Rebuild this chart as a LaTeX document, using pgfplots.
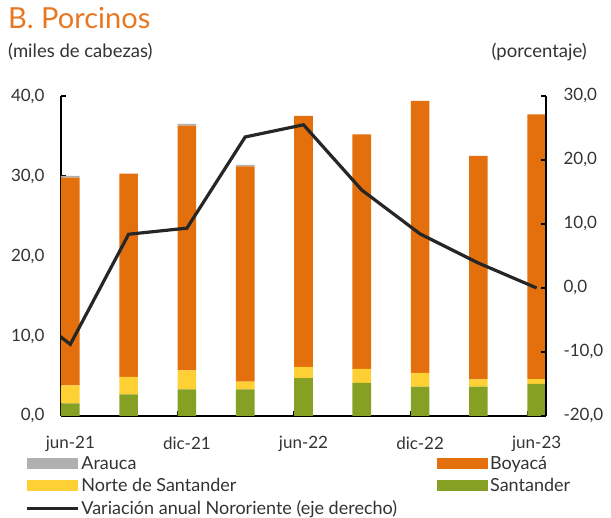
\documentclass[border=0pt]{standalone}
\usepackage{pgfplots}
\pgfplotsset{compat=1.18}
\usepackage{fontspec}
\setmainfont{Lato}
\definecolor{corange}{HTML}{E3700C}
\definecolor{cyellow}{HTML}{FFD033}
\definecolor{cgreen}{HTML}{86A024}
\definecolor{cgray}{HTML}{B0B0B0}
\definecolor{ctext}{HTML}{333333}
\definecolor{ctitle}{HTML}{E87722}
\begin{document}
\begin{tikzpicture}
\path[use as bounding box] (0pt,0pt) rectangle (611pt,518pt);
\node[anchor=north west,inner sep=0,text=ctitle,font=\fontsize{29}{31}\selectfont] at (8pt,511pt) {B. Porcinos};
\node[anchor=north west,inner sep=0,text=ctext,font=\fontsize{18.5}{20}\selectfont] at (8pt,475pt) {(miles de cabezas)};
\node[anchor=north east,inner sep=0,text=ctext,font=\fontsize{18.5}{20}\selectfont] at (587pt,475pt) {(porcentaje)};
\begin{axis}[
  at={(61pt,102pt)}, anchor=south west,
  width=485pt, height=320pt, scale only axis,
  xmin=-0.16, xmax=8.16,
  ymin=0, ymax=40,
  ytick={0,10,20,30,40},
  axis x line*=bottom, axis y line*=left,
  axis line style={line width=1.6pt,-},
  tick style={line width=1.4pt,black},
  major tick length=5pt,
  tick align=inside,
  xtick={-0.16,1.84,3.84,5.84,7.84},
  xticklabels={},
  extra x ticks={0,2,4,6,8},
  extra x tick labels={jun-21,dic-21,jun-22,dic-22,jun-23},
  extra x tick style={major tick length=0pt},
  ticklabel style={text=ctext,font=\fontsize{17}{19}\selectfont},
  x tick label style={yshift=-17pt},
  /pgf/number format/.cd, fixed, fixed zerofill, precision=1, use comma, assume math mode=true,
  /pgfplots/.cd,
  yticklabel style={xshift=-13pt},
  ybar stacked, bar width=0.32,
  legend columns=2,
  legend style={at={(-0.0742,-0.119)},anchor=north west,draw=none,fill=none,inner sep=0pt,
    font=\fontsize{18}{20}\selectfont,text=ctext,
    /tikz/every even column/.append style={column sep=38pt},
    row sep=3.5pt},
  legend cell align=left,
]
\addplot[fill=cgreen,draw=none,forget plot] coordinates {(0,1.58) (1,2.7) (2,3.33) (3,3.33) (4,4.74) (5,4.15) (6,3.66) (7,3.66) (8,4.03)};
\addplot[fill=cyellow,draw=none,forget plot] coordinates {(0,2.25) (1,2.2) (2,2.37) (3,0.97) (4,1.41) (5,1.75) (6,1.74) (7,0.91) (8,0.57)};
\addplot[fill=corange,draw=none,forget plot] coordinates {(0,25.97) (1,25.4) (2,30.6) (3,26.9) (4,31.35) (5,29.3) (6,34.0) (7,27.93) (8,33.1)};
\addplot[fill=cgray,draw=none,forget plot] coordinates {(0,0.2) (1,0) (2,0.2) (3,0.2) (4,0) (5,0) (6,0) (7,0) (8,0)};
\addlegendimage{area legend,fill=cgray,draw=none,legend image code/.code={\fill[cgray] (0pt,-5.5pt) rectangle (51pt,5.5pt);}}
\addlegendentry{Arauca}
\addlegendimage{area legend,fill=corange,draw=none,legend image code/.code={\fill[corange] (0pt,-5.5pt) rectangle (51pt,5.5pt);}}
\addlegendentry{Boyacá}
\addlegendimage{area legend,fill=cyellow,draw=none,legend image code/.code={\fill[cyellow] (0pt,-5.5pt) rectangle (51pt,5.5pt);}}
\addlegendentry{Norte de Santander}
\addlegendimage{area legend,fill=cgreen,draw=none,legend image code/.code={\fill[cgreen] (0pt,-5.5pt) rectangle (51pt,5.5pt);}}
\addlegendentry{Santander}
\addlegendimage{legend image code/.code={\draw[line width=3.2pt,color=black!85] (0pt,0pt) -- (51pt,0pt);}}
\addlegendentry{Variación anual Nororiente (eje derecho)}
\end{axis}
\begin{axis}[
  at={(61pt,102pt)}, anchor=south west,
  width=485pt, height=320pt, scale only axis,
  xmin=-0.16, xmax=8.16,
  ymin=-20, ymax=30,
  ytick={-20,-10,0,10,20,30},
  axis x line=none, axis y line*=right,
  axis line style={line width=1.6pt,-},
  tick style={line width=1.4pt,black},
  major tick length=5pt,
  tick align=inside,
  ticklabel style={text=ctext,font=\fontsize{17}{19}\selectfont},
  yticklabel style={xshift=14pt},
  /pgf/number format/.cd, fixed, fixed zerofill, precision=1, use comma, assume math mode=true,
  /pgfplots/.cd,
]
\addplot[line width=3.2pt,color=black!85,mark=none] coordinates {(-1,-1.8) (0,-8.8) (1,8.4) (2,9.35) (3,23.6) (4,25.5) (5,15.3) (6,8.45) (7,3.9) (8,0.0)};
\end{axis}
\end{tikzpicture}
\end{document}
